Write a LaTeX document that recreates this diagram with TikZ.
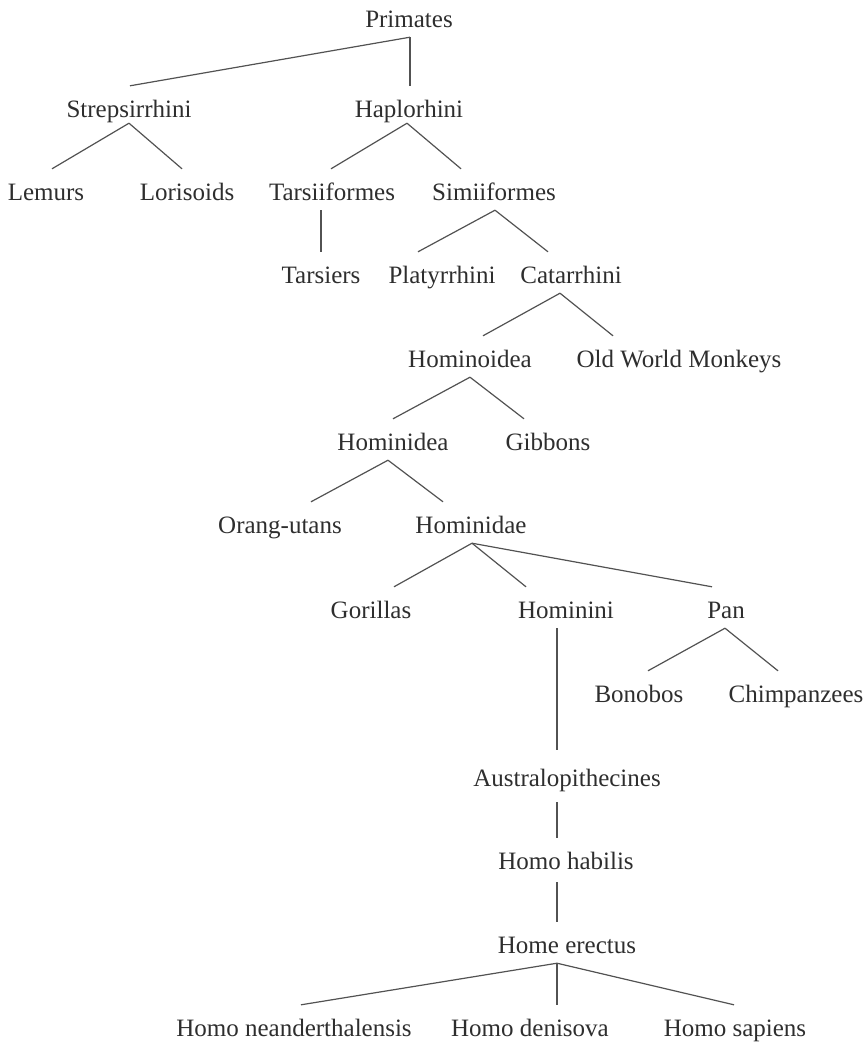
\documentclass[tikz,border=0pt]{standalone}
\usepackage{fontspec}
\setmainfont{Liberation Serif}
\begin{document}
\begin{tikzpicture}[x=1pt,y=-1pt,
  tx/.style={anchor=base, inner sep=0pt, text height=31pt, text depth=10pt,
    font=\fontsize{25}{30}\selectfont, text=black!82},
  ln/.style={draw=black!68, line width=1.2pt}]
\useasboundingbox (0,0) rectangle (867,1042);
\node[tx] (prim) at (409,27) {Primates};
\node[tx] (strep) at (129,117) {Strepsirrhini};
\node[tx] (hap) at (409,117) {Haplorhini};
\node[tx] (lem) at (46,200) {Lemurs};
\node[tx] (lor) at (187,200) {Lorisoids};
\node[tx] (tarf) at (332,200) {Tarsiiformes};
\node[tx] (simf) at (494,200) {Simiiformes};
\node[tx] (tars) at (321,283) {Tarsiers};
\node[tx] (plat) at (442,283) {Platyrrhini};
\node[tx] (cat) at (571,283) {Catarrhini};
\node[tx] (hoid) at (470,367) {Hominoidea};
\node[tx] (owm) at (679,367) {Old World Monkeys};
\node[tx] (hdea) at (393,450) {Hominidea};
\node[tx] (gib) at (548,450) {Gibbons};
\node[tx] (orang) at (280,533) {Orang-utans};
\node[tx] (hdae) at (471,533) {Hominidae};
\node[tx] (gor) at (371,618) {Gorillas};
\node[tx] (hini) at (566,618) {Hominini};
\node[tx] (pan) at (726,618) {Pan};
\node[tx] (bon) at (639,702) {Bonobos};
\node[tx] (chimp) at (796,702) {Chimpanzees};
\node[tx] (aus) at (567,786) {Australopithecines};
\node[tx] (hab) at (566,869) {Homo habilis};
\node[tx] (ere) at (567,953) {Home erectus};
\node[tx] (nea) at (294,1036) {Homo neanderthalensis};
\node[tx] (den) at (530,1036) {Homo denisova};
\node[tx] (sap) at (735,1036) {Homo sapiens};
% connectors
\draw[ln] ([xshift=1pt]prim.south) -- ([xshift=1pt]strep.north);
\draw[ln] ([xshift=1pt]prim.south) -- ([xshift=1pt]hap.north);
\draw[ln] ([yshift=4pt]strep.south) -- ([xshift=6pt]lem.north);
\draw[ln] ([yshift=4pt]strep.south) -- ([xshift=-5pt]lor.north);
\draw[ln] ([xshift=-2pt,yshift=4pt]hap.south) -- ([xshift=-1pt]tarf.north);
\draw[ln] ([xshift=-2pt,yshift=4pt]hap.south) -- ([xshift=-33pt]simf.north);
\draw[ln] ([xshift=-11pt]tarf.south) -- (tars.north);
\draw[ln] ([xshift=1pt]simf.south) -- ([xshift=-24pt]plat.north);
\draw[ln] ([xshift=1pt]simf.south) -- ([xshift=-23pt]cat.north);
\draw[ln] ([xshift=-11pt]cat.south) -- ([xshift=13pt]hoid.north);
\draw[ln] ([xshift=-11pt]cat.south) -- ([xshift=-66pt]owm.north);
\draw[ln] (hoid.south) -- (hdea.north);
\draw[ln] (hoid.south) -- ([xshift=-24pt]gib.north);
\draw[ln] ([xshift=-5pt]hdea.south) -- ([xshift=31pt]orang.north);
\draw[ln] ([xshift=-5pt]hdea.south) -- ([xshift=-28pt]hdae.north);
\draw[ln] ([xshift=1pt]hdae.south) -- ([xshift=23pt]gor.north);
\draw[ln] ([xshift=1pt]hdae.south) -- ([xshift=-40pt]hini.north);
\draw[ln] ([xshift=1pt]hdae.south) -- ([xshift=-14pt]pan.north);
\draw[ln] ([xshift=-9pt]hini.south) -- ([xshift=-10pt,yshift=5pt]aus.north);
\draw[ln] ([xshift=-1pt]pan.south) -- ([xshift=9pt]bon.north);
\draw[ln] ([xshift=-1pt]pan.south) -- ([xshift=-18pt]chimp.north);
\draw[ln] ([xshift=-10pt,yshift=-6pt]aus.south) -- ([xshift=-9pt]hab.north);
\draw[ln] ([xshift=-9pt,yshift=-3pt]hab.south) -- ([xshift=-10pt]ere.north);
\draw[ln] ([xshift=-10pt]ere.south) -- ([xshift=7pt]nea.north);
\draw[ln] ([xshift=-10pt]ere.south) -- ([xshift=27pt]den.north);
\draw[ln] ([xshift=-10pt]ere.south) -- ([xshift=-1pt]sap.north);
\end{tikzpicture}
\end{document}
